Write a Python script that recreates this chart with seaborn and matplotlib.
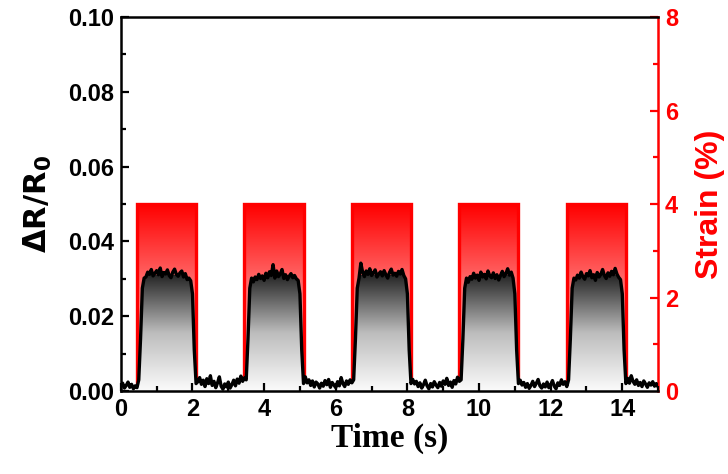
import numpy as np
import seaborn as sns
import matplotlib.pyplot as plt
from matplotlib.colors import LinearSegmentedColormap
from matplotlib.patches import Rectangle
from matplotlib.ticker import MultipleLocator

sns.set_style("ticks")
plt.rcParams['font.family'] = ['Liberation Sans', 'DejaVu Sans']
plt.rcParams['font.weight'] = 'bold'
plt.rcParams['text.color'] = 'black'
plt.rcParams['axes.labelcolor'] = 'black'
plt.rcParams['xtick.color'] = 'black'
plt.rcParams['ytick.color'] = 'black'

# strain pulses (right axis)
pulse_start = [0.45, 3.45, 6.45, 9.45, 12.45]
pulse_end = [2.1, 5.1, 8.1, 11.1, 14.1]
strain_level = 4

# resistance signal, sampled every 0.05 s
time_s = np.round(np.arange(0, 15.001, 0.05), 2)

base_pre = [0.0012, 0.0021, 0.0008, 0.0015, 0.0024, 0.0010, 0.0018, 0.0006, 0.0014, 0.0009]
rise = [0.0030, 0.0140, 0.0275, 0.0302]
fall = [0.0260, 0.0110, 0.0020]
plateau1 = [0.0305, 0.0318, 0.0312, 0.0325, 0.0308, 0.0315, 0.0322, 0.0311, 0.0329, 0.0306,
            0.0317, 0.0313, 0.0324, 0.0309, 0.0303, 0.0318, 0.0326, 0.0312, 0.0307, 0.0316,
            0.0321, 0.0305, 0.0314, 0.0298, 0.0302, 0.0295]
plateau2 = [0.0292, 0.0305, 0.0298, 0.0312, 0.0301, 0.0308, 0.0296, 0.0315, 0.0303, 0.0319,
            0.0309, 0.0338, 0.0302, 0.0321, 0.0306, 0.0313, 0.0325, 0.0301, 0.0311, 0.0298,
            0.0307, 0.0314, 0.0303, 0.0309, 0.0300, 0.0296]
plateau3 = [0.0342, 0.0318, 0.0306, 0.0321, 0.0312, 0.0327, 0.0309, 0.0316, 0.0324, 0.0305,
            0.0313, 0.0319, 0.0308, 0.0322, 0.0311, 0.0302, 0.0317, 0.0326, 0.0310, 0.0315,
            0.0307, 0.0320, 0.0313, 0.0325, 0.0309, 0.0300]
plateau4 = [0.0291, 0.0306, 0.0299, 0.0315, 0.0302, 0.0310, 0.0296, 0.0318, 0.0305, 0.0312,
            0.0300, 0.0321, 0.0308, 0.0303, 0.0316, 0.0301, 0.0311, 0.0297, 0.0309, 0.0320,
            0.0306, 0.0314, 0.0327, 0.0310, 0.0318, 0.0302]
plateau5 = [0.0297, 0.0310, 0.0302, 0.0318, 0.0306, 0.0299, 0.0314, 0.0308, 0.0322, 0.0303,
            0.0311, 0.0296, 0.0317, 0.0305, 0.0312, 0.0325, 0.0309, 0.0301, 0.0316, 0.0307,
            0.0320, 0.0311, 0.0328, 0.0313, 0.0304, 0.0298]
base12 = [0.0025, 0.0036, 0.0018, 0.0029, 0.0012, 0.0033, 0.0020, 0.0041, 0.0015, 0.0026,
          0.0009, 0.0022, 0.0038, 0.0013, 0.0005, 0.0019, 0.0011, 0.0024, 0.0008, 0.0017,
          0.0029, 0.0014, 0.0032, 0.0021, 0.0040, 0.0026, 0.0035]
base23 = [0.0038, 0.0022, 0.0030, 0.0015, 0.0027, 0.0011, 0.0024, 0.0019, 0.0008, 0.0021,
          0.0013, 0.0028, 0.0017, 0.0031, 0.0010, 0.0023, 0.0016, 0.0009, 0.0025, 0.0014,
          0.0036, 0.0020, 0.0012, 0.0027, 0.0018, 0.0030, 0.0022]
base34 = [0.0031, 0.0019, 0.0026, 0.0012, 0.0022, 0.0008, 0.0017, 0.0029, 0.0014, 0.0006,
          0.0020, 0.0011, 0.0025, 0.0016, 0.0009, 0.0023, 0.0013, 0.0027, 0.0018, 0.0034,
          0.0015, 0.0024, 0.0010, 0.0028, 0.0019, 0.0037, 0.0026]
base45 = [0.0029, 0.0016, 0.0023, 0.0010, 0.0020, 0.0007, 0.0015, 0.0026, 0.0012, 0.0021,
          0.0031, 0.0014, 0.0008, 0.0019, 0.0011, 0.0024, 0.0009, 0.0017, 0.0028, 0.0013,
          0.0006, 0.0022, 0.0015, 0.0030, 0.0018, 0.0025, 0.0012]
base_tail = [0.0034, 0.0021, 0.0041, 0.0026, 0.0018, 0.0030, 0.0015, 0.0023, 0.0012, 0.0027,
             0.0019, 0.0010, 0.0022, 0.0016, 0.0025, 0.0013, 0.0020, 0.0011]

resistance = np.array(base_pre + rise + plateau1 + fall + base12
                      + rise + plateau2 + fall + base23
                      + rise + plateau3 + fall + base34
                      + rise + plateau4 + fall + base45
                      + rise + plateau5 + fall + base_tail)

fig = plt.figure(figsize=(7.28, 4.74), dpi=100)
ax1 = fig.add_axes([0.166, 0.175, 0.738, 0.789])
ax2 = ax1.twinx()
ax1.set_zorder(ax2.get_zorder() + 1)
ax1.patch.set_visible(False)

# red strain blocks, white at the bottom -> red at the top
red_cmap = LinearSegmentedColormap.from_list("wr", ["#ffffff", "#ff0000"])
grad = np.linspace(0, 1, 256).reshape(-1, 1)
for s, e in zip(pulse_start, pulse_end):
    ax2.imshow(grad, extent=(s, e, 0, strain_level), origin='lower', aspect='auto',
               cmap=red_cmap, interpolation='bilinear')
    ax2.add_patch(Rectangle((s, 0), e - s, strain_level, fill=False,
                            edgecolor='#ff0000', lw=2.4))
ax2.set_xlim(0, 15)
ax2.set_ylim(0, 8)

# resistance curve with a grey gradient under it
grey_cmap = LinearSegmentedColormap.from_list("wk", ["#fbfbfb", "#bdbdbd", "#262626"])
area = ax1.fill_between(time_s, 0, resistance, facecolor='none', edgecolor='none')
im = ax1.imshow(grad, extent=(0, 15, 0, 0.031), origin='lower', aspect='auto',
                cmap=grey_cmap, interpolation='bilinear')
im.set_clip_path(area.get_paths()[0], transform=ax1.transData)
sns.lineplot(x=time_s, y=resistance, ax=ax1, color='black', lw=2.4)

ax1.set_xlim(0, 15)
ax1.set_ylim(0, 0.10)
ax1.xaxis.set_major_locator(MultipleLocator(2))
ax1.xaxis.set_minor_locator(MultipleLocator(1))
ax1.yaxis.set_major_locator(MultipleLocator(0.02))
ax1.yaxis.set_minor_locator(MultipleLocator(0.01))
ax1.yaxis.set_major_formatter(plt.FormatStrFormatter('%.2f'))
ax2.yaxis.set_major_locator(MultipleLocator(2))
ax2.yaxis.set_minor_locator(MultipleLocator(1))

ax1.tick_params(axis='both', which='major', direction='in', length=6, width=1.6,
                labelsize=17, pad=5, colors='black')
ax1.tick_params(axis='both', which='minor', direction='in', length=3.5, width=1.6,
                colors='black')
ax1.tick_params(axis='y', which='both', right=False)
ax1.tick_params(axis='x', which='both', top=False)
ax2.tick_params(axis='y', which='major', direction='in', length=6, width=1.6,
                labelsize=17, colors='#ff0000', pad=5)
ax2.tick_params(axis='y', which='minor', direction='in', length=3.5, width=1.6,
                colors='#ff0000')
for lab in ax1.get_xticklabels() + ax1.get_yticklabels() + ax2.get_yticklabels():
    lab.set_fontweight('bold')

for side in ['left', 'bottom', 'top']:
    ax1.spines[side].set_linewidth(1.8)
    ax1.spines[side].set_color('black')
ax1.spines['right'].set_visible(False)
ax2.spines['right'].set_color('#ff0000')
ax2.spines['right'].set_linewidth(1.8)
for side in ['left', 'bottom', 'top']:
    ax2.spines[side].set_visible(False)

ax1.set_xlabel('Time (s)', fontsize=24, fontweight='bold', color='black',
               family=['Liberation Serif', 'DejaVu Serif'], labelpad=1)
ax1.set_ylabel(r'$\mathbf{\Delta R/R_0}$', fontsize=22, color='black', labelpad=10)
ax2.set_ylabel('Strain (%)', fontsize=23, fontweight='bold', color='#ff0000', labelpad=12)

fig.savefig('out.png', dpi=100)
